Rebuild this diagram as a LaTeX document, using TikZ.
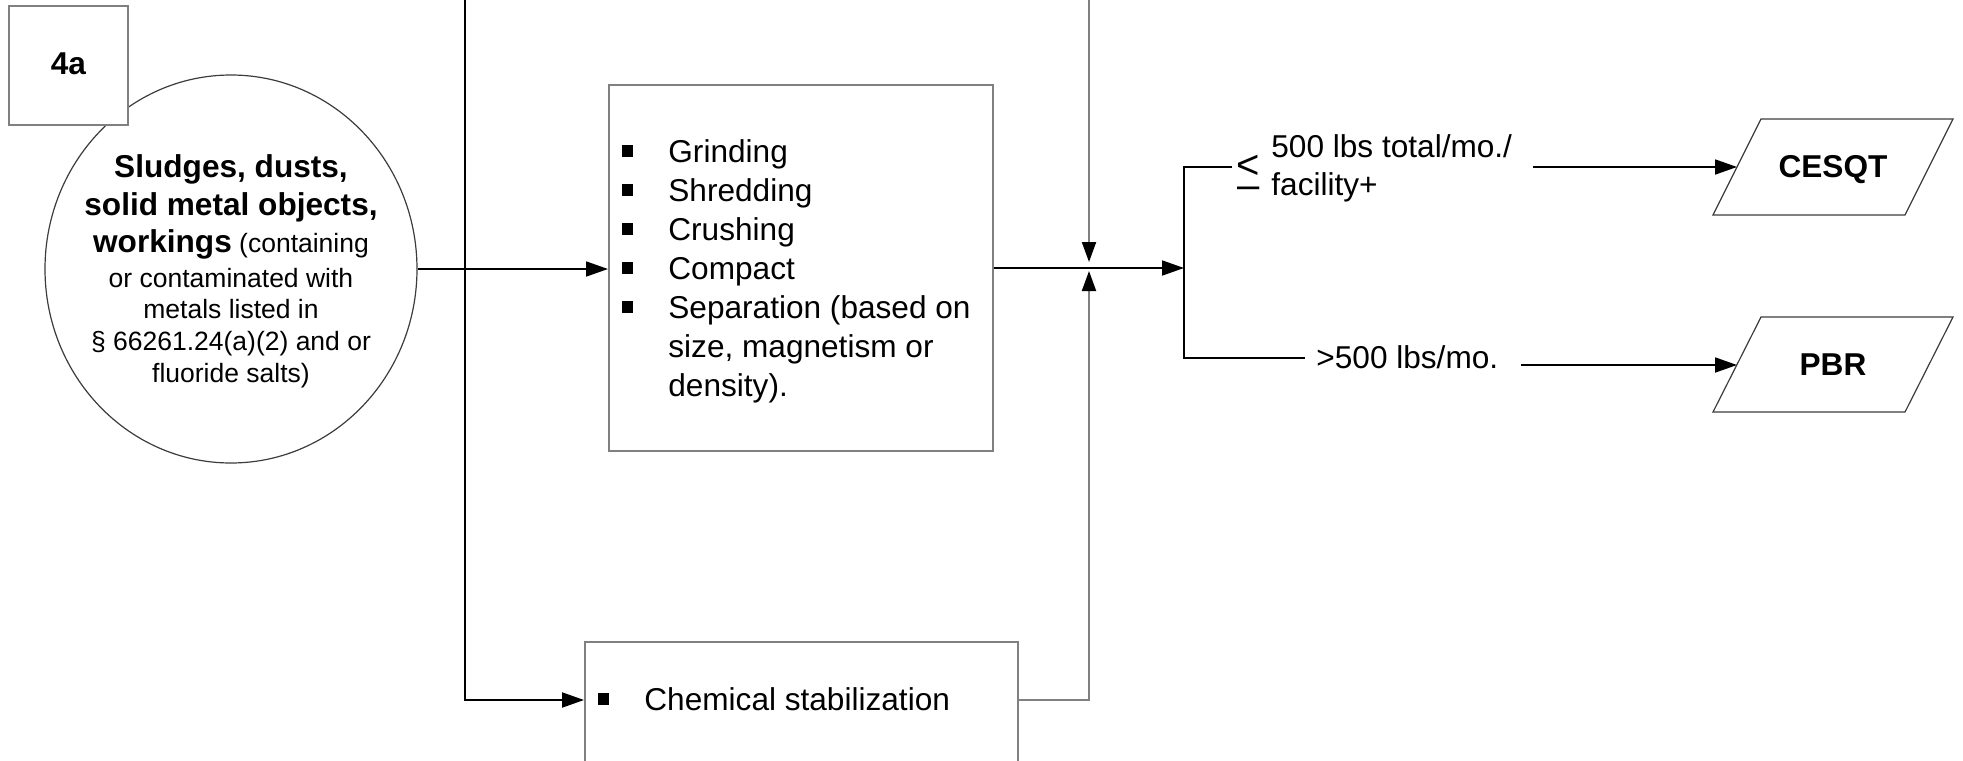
\documentclass[tikz,border=0pt]{standalone}
\usepackage{fontspec}
\setmainfont{Liberation Sans}
\usetikzlibrary{arrows.meta,shapes.geometric}
\definecolor{boxgray}{RGB}{128,128,128}
\definecolor{ringgray}{RGB}{60,60,60}
\newcommand{\mybullet}{\makebox[23pt][l]{\raisebox{2.5pt}{\rule{5.5pt}{6pt}}}}
\begin{document}
\begin{tikzpicture}[x=0.5pt,y=-0.5pt,
  txt/.style={inner sep=0pt, anchor=base, font=\fontsize{15.8}{19}\selectfont},
  txtw/.style={txt, anchor=base west},
  btxt/.style={inner sep=0pt, anchor=base, font=\fontsize{15.8}{19}\selectfont\bfseries},
  small/.style={inner sep=0pt, anchor=base, font=\fontsize{13.25}{16}\selectfont},
  sym/.style={inner sep=0pt, anchor=base west, font=\fontsize{20}{22}\selectfont},
  boxstyle/.style={draw=boxgray, line width=1pt, fill=white, rectangle, inner sep=0pt},
  para/.style={draw=ringgray, line width=0.6pt, line join=miter},
  arr/.style={-{Triangle[length=11pt,width=7.5pt,color=black]}, line width=0.9pt, draw=black},
  garr/.style={-{Triangle[length=10pt,width=7pt,color=black]}, line width=1pt, draw=boxgray},
  plain/.style={line width=0.9pt, draw=black}
]
\useasboundingbox (0,0) rectangle (1963,760);

% source circle and label box
\node[draw=ringgray, line width=0.6pt, ellipse, minimum width=186pt, minimum height=194pt, inner sep=0pt] (src) at (231,269) {};
\node[boxstyle, minimum width=59.5pt, minimum height=59.5pt] (lab) at (68.5,65) {};
\node[btxt] (labtxt) at (68.5,74) {4a};

\node[btxt] (c1) at (231,177) {Sludges, dusts,};
\node[btxt] (c2) at (231,215) {solid metal objects,};
\node[small] (c3) at (231,252) {{\fontsize{15.8}{19}\selectfont\bfseries workings} (containing};
\node[small] (c4) at (231,287) {or contaminated with};
\node[small] (c5) at (231,318.5) {metals listed in};
\node[small] (c6) at (231,350.5) {§ 66261.24(a)(2) and or};
\node[small] (c7) at (231,382) {fluoride salts)};

% process box 1
\node[boxstyle, minimum width=192pt, minimum height=183pt] (box1) at (801,268) {};
\node[txtw] (g1) at (622,162) {\mybullet Grinding};
\node[txtw] (g2) at (622,201) {\mybullet Shredding};
\node[txtw] (g3) at (622,240) {\mybullet Crushing};
\node[txtw] (g4) at (622,279) {\mybullet Compact};
\node[txtw] (g5) at (622,318) {\mybullet Separation (based on};
\node[txtw] (g6) at (668,357) {size, magnetism or};
\node[txtw] (g7) at (668,396) {density).};

% process box 3
\node[boxstyle, minimum width=216.5pt, minimum height=80pt, anchor=north west] (box3) at (584,641) {};
\node[txtw] (chem) at (598,710) {\mybullet Chemical stabilization};

% coordinates
\coordinate (ltop) at (465,0);
\coordinate (rtop) at (1089,0);
\coordinate (y700) at (0,700);
\coordinate (jdown) at (1089,262);
\coordinate (jup) at (1089,271);
\coordinate (fork) at (1184,268);
\coordinate (btop) at (1184,167);
\coordinate (bbot) at (1184,358);
\coordinate (tl) at (1232,167);
\coordinate (bl) at (1305,358);
\coordinate (tr) at (1533,167);
\coordinate (br) at (1521,365);
\coordinate (cin) at (1737,167);
\coordinate (pin) at (1737,365);

% connectors
\draw[arr] (src.east) -- (box1.west |- src.east);
\draw[arr, line width=1pt] (ltop) |- (box3.west |- y700);
\draw[garr] (rtop) -- (jdown);
\draw[garr] (box3.east |- y700) -| (jup);
\draw[arr] (box1.east) -- (fork);
\draw[plain] (tl) -- (btop) -- (bbot) -- (bl);
\draw[arr] (tr) -- (cin);
\draw[arr] (br) -- (pin);

% branch labels (stacked less-or-equal sign)
\node[sym] (le) at (1236,198) {\vbox{\baselineskip=10pt\lineskiplimit=-100pt\lineskip=0pt\hbox{<}\hbox{\kern0.5pt–}}};
\node[txtw] (t1) at (1271,157) {500 lbs total/mo./};
\node[txtw] (t2) at (1271,195) {facility+};
\node[txtw] (t3) at (1316,368) {>500 lbs/mo.};

% outputs
\draw[para] (1761,119) -- (1953,119) -- (1905,215) -- (1713,215) -- cycle;
\node[btxt] (cesqt) at (1833,177) {CESQT};
\draw[para] (1761,317) -- (1953,317) -- (1905,412) -- (1713,412) -- cycle;
\node[btxt] (pbr) at (1833,375) {PBR};
\end{tikzpicture}
\end{document}
